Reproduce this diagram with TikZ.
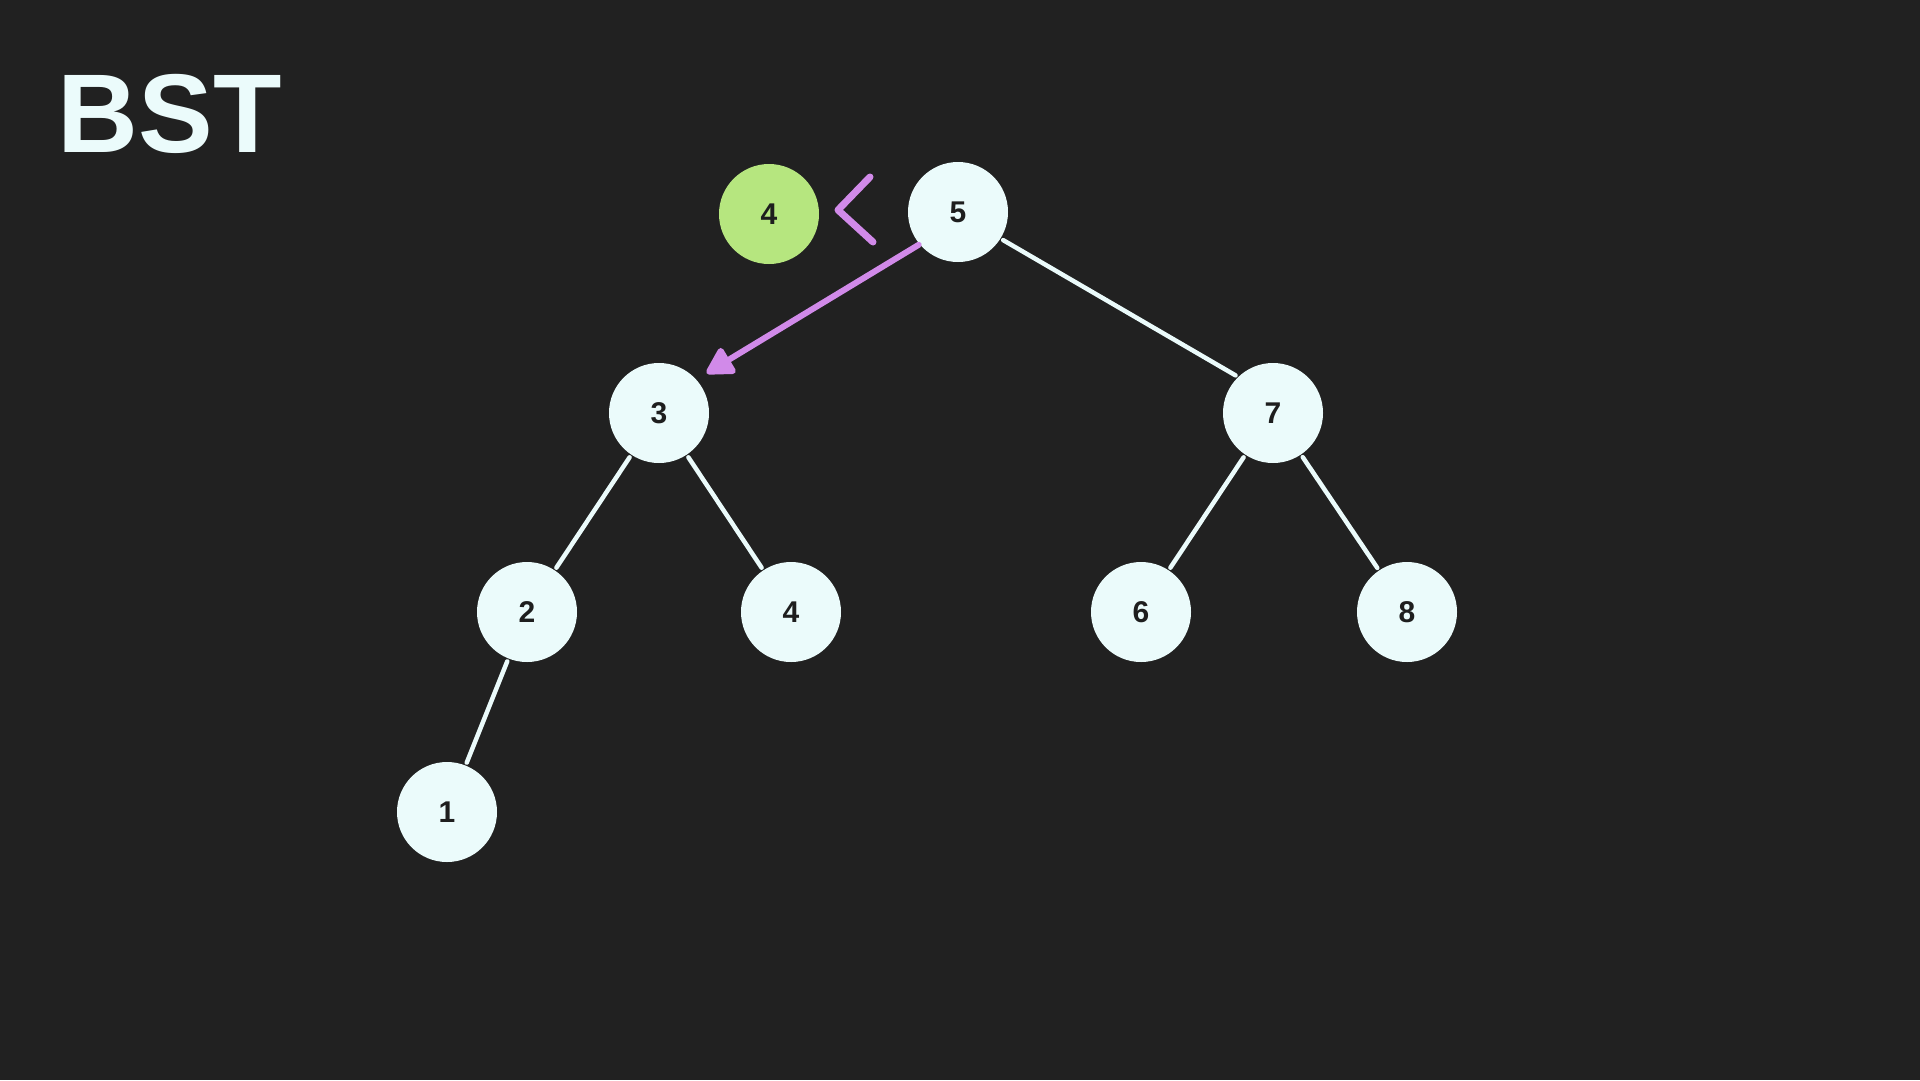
\documentclass[tikz,border=0pt]{standalone}
\usepackage{fontspec}
\setmainfont{Liberation Sans}
\usetikzlibrary{arrows.meta}
\definecolor{bg}{HTML}{212121}
\definecolor{nodefill}{HTML}{EBFBFB}
\definecolor{greenfill}{HTML}{B6E67F}
\definecolor{purp}{HTML}{D18AE9}
\definecolor{ink}{HTML}{1E1E1E}
\tikzset{
  treenode/.style={circle, fill=nodefill, minimum size=100pt, inner sep=0pt,
    text=ink, font=\fontsize{30}{32}\selectfont\bfseries},
  newnode/.style={treenode, fill=greenfill},
  edge/.style={draw=nodefill, line width=4.5pt, line cap=round, shorten <=3pt, shorten >=3pt},
  hint/.style={draw=purp, line width=7pt, line cap=round, line join=round},
}
\begin{document}
\begin{tikzpicture}[x=1pt,y=-1pt]
\fill[bg] (0,0) rectangle (1920,1080);
\useasboundingbox (0,0) rectangle (1920,1080);
\node[anchor=base west, text=nodefill, font=\fontsize{112}{114}\selectfont\bfseries] (title) at (54,152) {BST};
\node[newnode] (n4new) at (769,214) {4};
\node[treenode] (n5) at (958,212) {5};
\node[treenode] (n3) at (659,413) {3};
\node[treenode] (n7) at (1273,413) {7};
\node[treenode] (n2) at (527,612) {2};
\node[treenode] (n4) at (791,612) {4};
\node[treenode] (n6) at (1141,612) {6};
\node[treenode] (n8) at (1407,612) {8};
\node[treenode] (n1) at (447,812) {1};
\coordinate (chtop) at (870,177);
\coordinate (chmid) at (838,210);
\coordinate (chbot) at (873,242);
\draw[hint] (chtop) -- (chmid) -- (chbot);
\draw[edge] (n5.-32) -- (n7.134);
\draw[edge] (n3) -- (n2);
\draw[edge] (n3) -- (n4);
\draw[edge] (n7) -- (n6);
\draw[edge] (n7) -- (n8);
\draw[edge] (n2) -- (n1);
\draw[hint, line width=6pt, shorten <=1pt, shorten >=12pt, -{Triangle[length=30pt,width=32pt,round]}] (n5.220) -- (n3.42);
\end{tikzpicture}
\end{document}
